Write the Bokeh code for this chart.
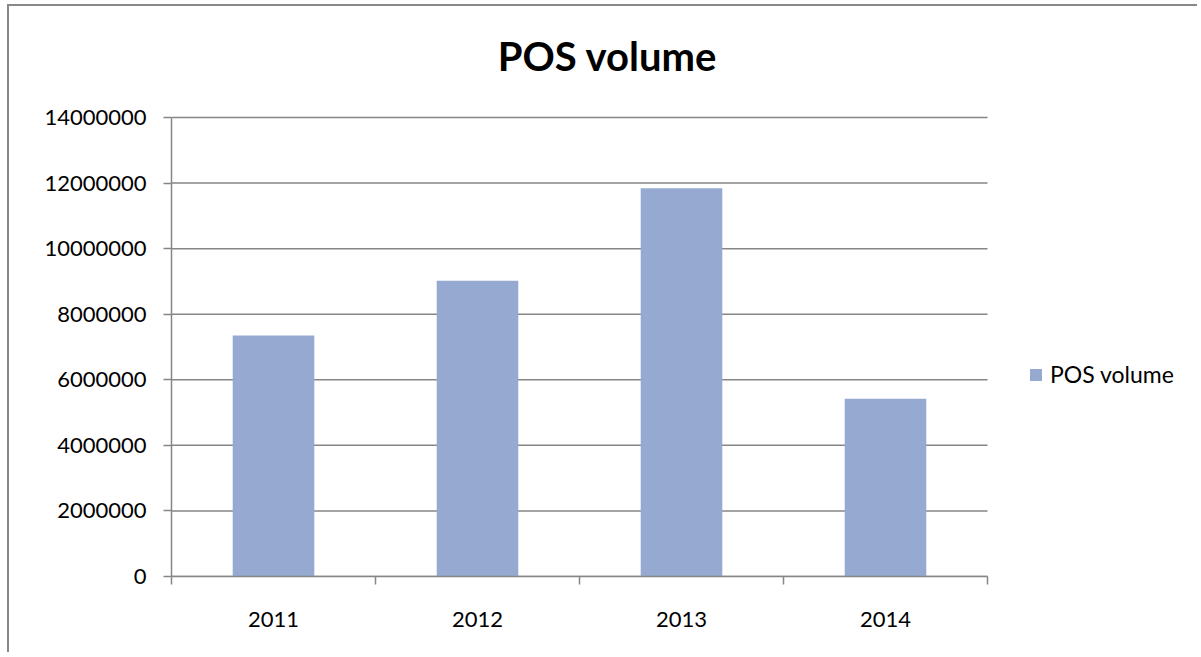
from bokeh.plotting import figure
from bokeh.models import Range1d, FixedTicker, BasicTickFormatter, Legend, LegendItem, Label
from bokeh.embed import file_html
from bokeh.resources import INLINE

categories = ["2011", "2012", "2013", "2014"]
pos_volume = [7350000, 9020000, 11840000, 5420000]
y_ticks = [0, 2000000, 4000000, 6000000, 8000000, 10000000, 12000000, 14000000]
series_name = "POS volume"
title_text = "POS volume"

FONT = "Lato"
GRAY = "#868686"
BAR = "#95A9D1"

n = len(categories)
y_max = y_ticks[-1]
# frame spans the whole canvas; axis region occupies 816 x 459 px of it
p = figure(width=1190, height=648, output_backend="svg", toolbar_location=None,
           x_range=Range1d(0, n * 1028 / 816), y_range=Range1d(0, y_max * 570 / 459),
           min_border_left=162, min_border_right=0, min_border_top=0, min_border_bottom=78)
p.title = None
p.outline_line_color = None
p.background_fill_color = "white"
p.border_fill_color = "white"
p.styles = {"margin-left": "7px", "margin-top": "4px",
            "border-left": "2px solid #888888", "border-top": "2px solid #888888"}

# horizontal gridlines, limited to the category span
p.segment(x0=[0] * len(y_ticks), x1=[n] * len(y_ticks), y0=y_ticks, y1=y_ticks,
          line_color=GRAY, line_width=1.5)

xs = [i + 0.5 for i in range(n)]
r = p.vbar(x=xs, top=pos_volume, width=0.4, fill_color=BAR, line_color=None)

# title
p.add_layout(Label(x=436, y=521, x_units="screen", y_units="screen", text=title_text,
                   text_font=FONT, text_font_style="bold", text_font_size="40px",
                   text_color="black", text_align="center", text_baseline="alphabetic"))

# y axis
p.yaxis.ticker = FixedTicker(ticks=y_ticks)
p.yaxis.bounds = (0, y_max)
p.yaxis.formatter = BasicTickFormatter(use_scientific=False)
p.yaxis.axis_line_color = GRAY
p.yaxis.axis_line_width = 1.5
p.yaxis.major_tick_line_color = GRAY
p.yaxis.major_tick_line_width = 1.5
p.yaxis.major_tick_out = 8
p.yaxis.major_tick_in = 0
p.yaxis.minor_tick_line_color = None
p.yaxis.major_label_standoff = 17
p.yaxis.major_label_text_font = FONT
p.yaxis.major_label_text_font_size = "22px"
p.yaxis.major_label_text_color = "black"

# x axis
p.xaxis.ticker = FixedTicker(ticks=xs, minor_ticks=list(range(n + 1)))
p.xaxis.major_label_overrides = {x: c for x, c in zip(xs, categories)}
p.xaxis.bounds = (0, n)
p.xaxis.axis_line_color = GRAY
p.xaxis.axis_line_width = 1.5
p.xaxis.major_tick_line_color = None
p.xaxis.major_tick_out = 0
p.xaxis.major_tick_in = 0
p.xaxis.minor_tick_line_color = GRAY
p.xaxis.minor_tick_line_width = 1.5
p.xaxis.minor_tick_out = 8
p.xaxis.minor_tick_in = 0
p.xaxis.major_label_standoff = 27
p.xaxis.major_label_text_font = FONT
p.xaxis.major_label_text_font_size = "22px"
p.xaxis.major_label_text_color = "black"

p.xgrid.grid_line_color = None
p.ygrid.grid_line_color = None

legend = Legend(items=[LegendItem(label=series_name, renderers=[r])],
                location=(857, 188), padding=0, margin=0,
                border_line_color=None, background_fill_alpha=0,
                glyph_width=15, glyph_height=15, label_height=15, label_standoff=7,
                label_text_font=FONT, label_text_font_size="23px",
                label_text_color="black")
p.add_layout(legend, "center")

open("out.html", "w").write(file_html(p, INLINE))
